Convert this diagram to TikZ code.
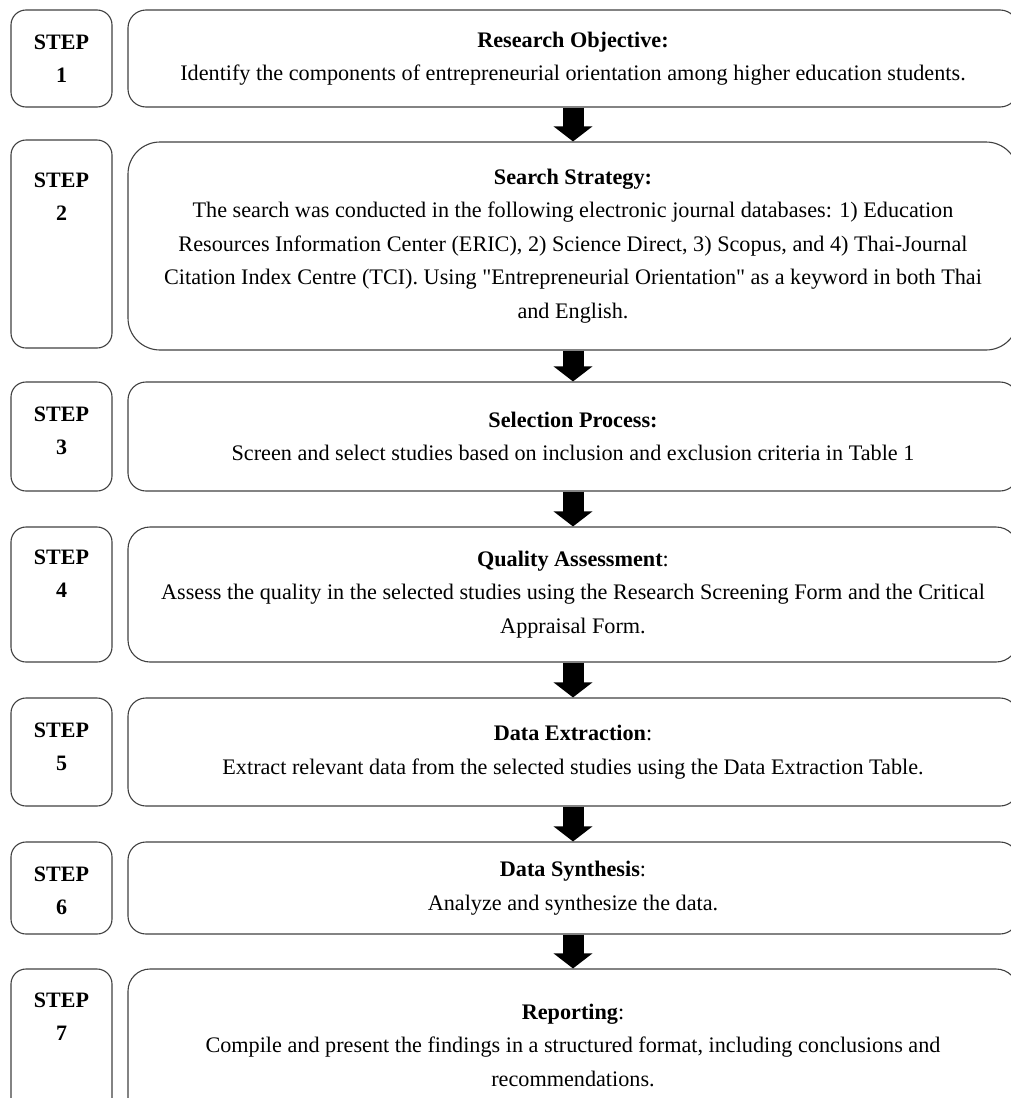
\documentclass[tikz,border=0pt]{standalone}
\usepackage{fontspec}
\setmainfont[Ligatures=TeXOff]{Liberation Serif}
\usetikzlibrary{arrows.meta,positioning}
\begin{document}
\begin{tikzpicture}[x=1pt,y=-1pt,
        font=\fontsize{22.2}{33.5}\selectfont,
        stepbox/.style={rectangle, rounded corners=15pt, draw=black!75, line width=1.1pt, minimum width=101pt, inner sep=0pt},
        taskbox/.style={rectangle, rounded corners=#1, draw=black!75, line width=1.1pt, minimum width=890pt, inner sep=0pt, align=center},
        taskbox/.default=18pt,
        steplabel/.style={anchor=north, align=center, font=\fontsize{22}{33.5}\selectfont\bfseries, inner sep=0pt},
        flow/.style={-{Triangle[width=38pt,length=15pt]}, line width=21pt, black},
    ]
    \useasboundingbox (0,0) rectangle (1011,1098);
    \clip (0,0) rectangle (1011,1098);
    \node[stepbox, minimum height=97pt] (s1) at (61.5,58.5) {};
    \node[stepbox, minimum height=208pt] (s2) at (61.5,244) {};
    \node[stepbox, minimum height=109pt] (s3) at (61.5,436.5) {};
    \node[stepbox, minimum height=135pt] (s4) at (61.5,594.5) {};
    \node[stepbox, minimum height=108pt] (s5) at (61.5,752) {};
    \node[stepbox, minimum height=92pt] (s6) at (61.5,888) {};
    \node[stepbox, minimum height=152pt] (s7) at (61.5,1045) {};
    \node[steplabel] (l1) at (61.5,34.5) {STEP\\1};
    \node[steplabel] (l2) at (61.5,172.5) {STEP\\2};
    \node[steplabel] (l3) at (61.5,406.5) {STEP\\3};
    \node[steplabel] (l4) at (61.5,549.5) {STEP\\4};
    \node[steplabel] (l5) at (61.5,722.5) {STEP\\5};
    \node[steplabel] (l6) at (61.5,866.5) {STEP\\6};
    \node[steplabel] (l7) at (61.5,992.5) {STEP\\7};
    \node[taskbox, minimum height=97pt] (t1) at (573,58.5) {\textbf{Research Objective:}\\
        Identify the components of entrepreneurial orientation among higher education students.};
    \node[taskbox=32pt, minimum height=208pt] (t2) at (573,246) {\textbf{Search Strategy:}\\
        The search was conducted in the following electronic journal databases: 1) Education\\
        Resources Information Center (ERIC), 2) Science Direct, 3) Scopus, and 4) Thai-Journal\\
        Citation Index Centre (TCI). Using "Entrepreneurial Orientation" as a keyword in both Thai\\
        and English.};
    \node[taskbox, minimum height=109pt] (t3) at (573,436.5) {\textbf{Selection Process:}\\
        Screen and select studies based on inclusion and exclusion criteria in Table 1};
    \node[taskbox=22pt, minimum height=135pt] (t4) at (573,594.5) {\textbf{Quality Assessment}:\\
        Assess the quality in the selected studies using the Research Screening Form and the Critical\\
        Appraisal Form.};
    \node[taskbox, minimum height=108pt] (t5) at (573,752) {\textbf{Data Extraction}:\\
        Extract relevant data from the selected studies using the Data Extraction Table.};
    \node[taskbox, minimum height=92pt] (t6) at (573,888) {\textbf{Data Synthesis}:\\
        Analyze and synthesize the data.};
    \node[taskbox=22pt, minimum height=152pt] (t7) at (573,1045) {\textbf{Reporting}:\\
        Compile and present the findings in a structured format, including conclusions and\\
        recommendations.};
    \draw[flow] (t1.south) -- (t2.north);
    \draw[flow] (t2.south) -- (t3.north);
    \draw[flow] (t3.south) -- (t4.north);
    \draw[flow] (t4.south) -- (t5.north);
    \draw[flow] (t5.south) -- (t6.north);
    \draw[flow] (t6.south) -- (t7.north);
\end{tikzpicture}
\end{document}
